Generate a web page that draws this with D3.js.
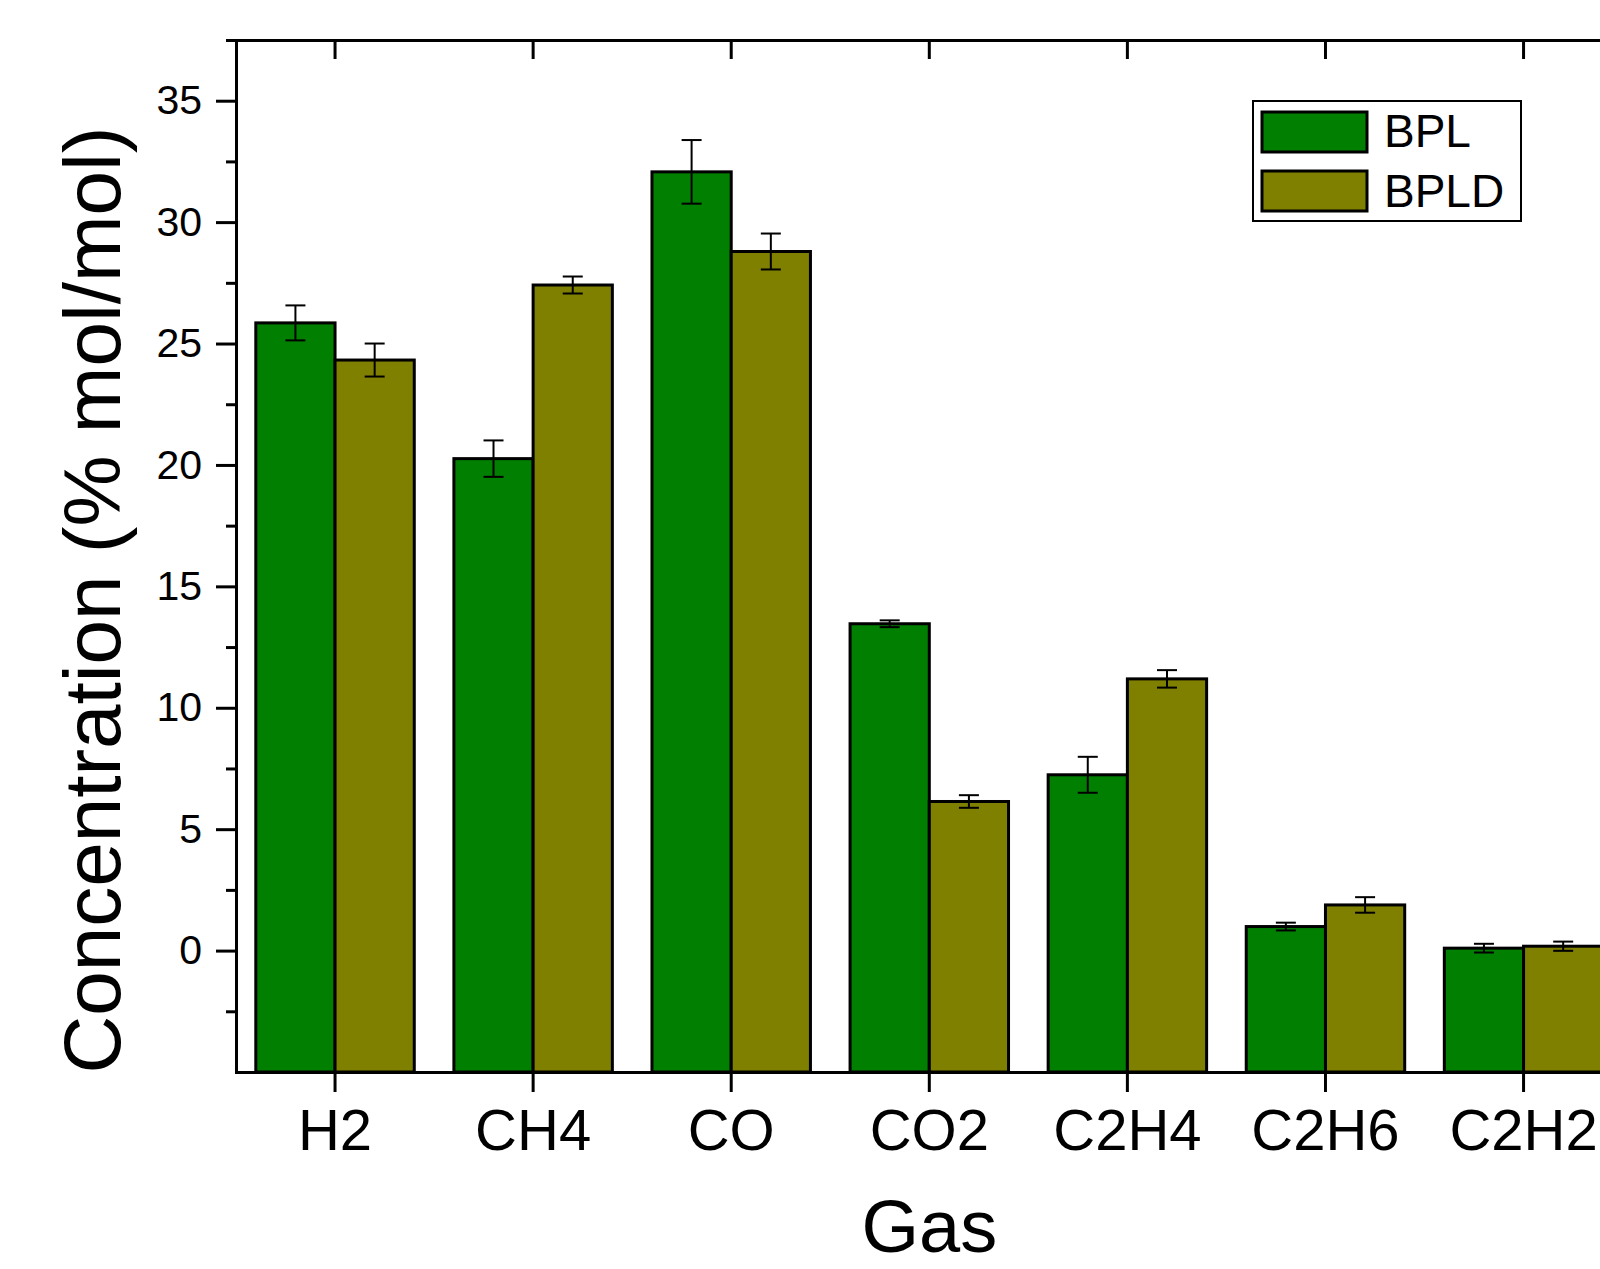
<!DOCTYPE html>
<html>
<head>
<meta charset="utf-8">
<script src="https://cdn.jsdelivr.net/npm/d3@7"></script>
<style>
body { margin: 0; background: #fff; }
svg { display: block; font-family: Arial, "Liberation Sans", sans-serif; }
</style>
</head>
<body>
<svg></svg>
<script>
// values
const gases = ["H2", "CH4", "CO", "CO2", "C2H4", "C2H6", "C2H2"];
const seriesNames = ["BPL", "BPLD"];
const bplValues = [25.85, 20.26, 32.07, 13.46, 7.24, 0.99, 0.10];
const bplErrors = [0.72, 0.75, 1.31, 0.14, 0.74, 0.16, 0.18];
const bpldValues = [24.32, 27.41, 28.79, 6.14, 11.19, 1.88, 0.18];
const bpldErrors = [0.68, 0.35, 0.74, 0.26, 0.36, 0.32, 0.19];
const seriesColors = ["#007f00", "#7f7f00"];
const yMajorTicks = [0, 5, 10, 15, 20, 25, 30, 35];
const yMinorTicks = [-2.5, 2.5, 7.5, 12.5, 17.5, 22.5, 27.5, 32.5, 37.5];
const yDomain = [-5, 37.5];

const SVG_WIDTH = 1600;
const SVG_HEIGHT = 1269;
const LEFT = 236;
const RIGHT = 1622.6; // plot runs past the right edge, like the original
const TOP = 40;
const BOTTOM = 1072;
const AXIS_WIDTH = 3;
const CAP = 10;

const svg = d3.select("svg")
	.attr("width", SVG_WIDTH)
	.attr("height", SVG_HEIGHT);

const x = d3.scaleBand()
	.domain(gases)
	.range([LEFT, RIGHT])
	.paddingInner(0.2)
	.paddingOuter(0.1);
const xSeries = d3.scaleBand()
	.domain(seriesNames)
	.range([0, x.bandwidth()]);
const y = d3.scaleLinear()
	.domain(yDomain)
	.range([BOTTOM, TOP]);

const rows = [];
gases.forEach(function(g, i) {
	rows.push({gas: g, series: "BPL", value: bplValues[i], err: bplErrors[i], color: seriesColors[0]});
	rows.push({gas: g, series: "BPLD", value: bpldValues[i], err: bpldErrors[i], color: seriesColors[1]});
});

// Bars start at the bottom of the axis, not at zero
svg.append("g").selectAll("rect")
	.data(rows)
	.enter()
	.append("rect")
	.attr("x", function(d) {return x(d.gas) + xSeries(d.series);})
	.attr("y", function(d) {return y(d.value);})
	.attr("width", xSeries.bandwidth())
	.attr("height", function(d) {return y(yDomain[0]) - y(d.value);})
	.attr("fill", function(d) {return d.color;})
	.attr("stroke", "#000")
	.attr("stroke-width", 3);

// Error bars
const errs = svg.append("g")
	.attr("stroke", "#000")
	.attr("stroke-width", 2);
rows.forEach(function(d) {
	const cx = x(d.gas) + xSeries(d.series) + xSeries.bandwidth() / 2;
	const yHi = y(d.value + d.err);
	const yLo = y(d.value - d.err);
	errs.append("line").attr("x1", cx).attr("x2", cx).attr("y1", yHi).attr("y2", yLo);
	errs.append("line").attr("x1", cx - CAP).attr("x2", cx + CAP).attr("y1", yHi).attr("y2", yHi);
	errs.append("line").attr("x1", cx - CAP).attr("x2", cx + CAP).attr("y1", yLo).attr("y2", yLo);
});

// Axes
const yAxis = svg.append("g")
	.attr("transform", "translate(" + LEFT + ",0)")
	.call(d3.axisLeft(y).tickValues(yMajorTicks).tickSize(20).tickSizeOuter(0).tickPadding(14));
yAxis.selectAll("text").attr("font-size", 41).attr("font-family", "Arial, 'Liberation Sans', sans-serif");
svg.append("g")
	.attr("transform", "translate(" + LEFT + ",0)")
	.call(d3.axisLeft(y).tickValues(yMinorTicks).tickSize(10).tickSizeOuter(0).tickFormat(""));

const xAxis = svg.append("g")
	.attr("transform", "translate(0," + BOTTOM + ")")
	.call(d3.axisBottom(x).tickSize(20).tickSizeOuter(0).tickPadding(17));
xAxis.selectAll("text").attr("font-size", 58).attr("font-family", "Arial, 'Liberation Sans', sans-serif");

svg.append("g")
	.attr("transform", "translate(0," + TOP + ")")
	.call(d3.axisTop(x).tickSize(-19).tickSizeOuter(0).tickFormat(""));

svg.selectAll(".domain, .tick line")
	.attr("stroke", "#000")
	.attr("stroke-width", AXIS_WIDTH);
svg.selectAll(".domain").attr("stroke-linecap", "square");

// Axis titles
svg.append("text")
	.attr("transform", "translate(120,600) rotate(-90)")
	.attr("text-anchor", "middle")
	.attr("font-size", 80)
	.text("Concentration (% mol/mol)");
svg.append("text")
	.attr("x", (LEFT + RIGHT) / 2)
	.attr("y", 1252)
	.attr("text-anchor", "middle")
	.attr("font-size", 74)
	.text("Gas");

// Legend
const legend = svg.append("g");
legend.append("rect")
	.attr("x", 1253).attr("y", 101).attr("width", 268).attr("height", 120)
	.attr("fill", "#fff").attr("stroke", "#000").attr("stroke-width", 2);
seriesNames.forEach(function(name, i) {
	legend.append("rect")
		.attr("x", 1262).attr("y", 112 + i * 59).attr("width", 105).attr("height", 40)
		.attr("fill", seriesColors[i]).attr("stroke", "#000").attr("stroke-width", 3);
	legend.append("text")
		.attr("x", 1384).attr("y", 147 + i * 60)
		.attr("font-size", 46)
		.text(name);
});
</script>
</body>
</html>
